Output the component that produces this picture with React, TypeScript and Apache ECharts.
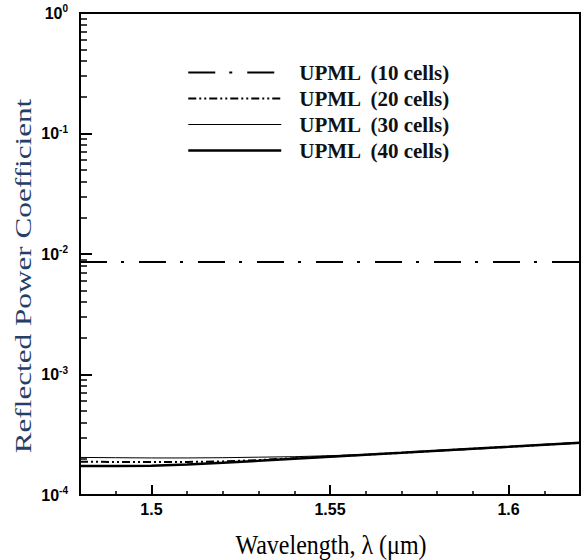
import React, { useEffect, useRef } from "react";
import * as echarts from "echarts";

const wavelengths = [1.48, 1.49, 1.5, 1.51, 1.52, 1.53, 1.54, 1.55, 1.56, 1.57, 1.58, 1.59, 1.6, 1.61, 1.62];
const upml10 = [8.6e-3, 8.6e-3, 8.6e-3, 8.6e-3, 8.6e-3, 8.6e-3, 8.6e-3, 8.6e-3, 8.6e-3, 8.6e-3, 8.6e-3, 8.6e-3, 8.6e-3, 8.6e-3, 8.6e-3];
const upml20 = [1.89e-4, 1.88e-4, 1.88e-4, 1.88e-4, 1.9e-4, 1.95e-4, 2.02e-4, 2.09e-4, 2.16e-4, 2.24e-4, 2.33e-4, 2.42e-4, 2.51e-4, 2.61e-4, 2.71e-4];
const upml30 = [2.05e-4, 2.04e-4, 2.03e-4, 2.03e-4, 2.04e-4, 2.06e-4, 2.08e-4, 2.12e-4, 2.17e-4, 2.24e-4, 2.33e-4, 2.42e-4, 2.52e-4, 2.62e-4, 2.72e-4];
const upml40 = [1.74e-4, 1.74e-4, 1.75e-4, 1.79e-4, 1.85e-4, 1.92e-4, 2.0e-4, 2.08e-4, 2.16e-4, 2.24e-4, 2.33e-4, 2.42e-4, 2.51e-4, 2.61e-4, 2.71e-4];
const seriesNames = ["UPML  (10 cells)", "UPML  (20 cells)", "UPML  (30 cells)", "UPML  (40 cells)"];
const xTitle = "Wavelength, λ (μm)";
const yTitle = "Reflected Power Coefficient";
const xMajorTicks = [1.5, 1.55, 1.6];
const xMinorTicks = [1.49, 1.51, 1.52, 1.53, 1.54, 1.56, 1.57, 1.58, 1.59, 1.61];
const yMinorTicks = [
  2e-4, 3e-4, 4e-4, 5e-4, 6e-4, 7e-4, 8e-4, 9e-4,
  2e-3, 3e-3, 4e-3, 5e-3, 6e-3, 7e-3, 8e-3, 9e-3,
  2e-2, 3e-2, 4e-2, 5e-2, 6e-2, 7e-2, 8e-2, 9e-2,
  2e-1, 3e-1, 4e-1, 5e-1, 6e-1, 7e-1, 8e-1, 9e-1,
];

export default function App() {
  const ref = useRef<HTMLDivElement>(null);
  useEffect(() => {
    if (!ref.current) return;
    const chart = echarts.init(ref.current, null, { renderer: "svg" });
    const pair = (arr: number[]) => wavelengths.map((x, i) => [x, arr[i]]);
    const sansBold = { fontFamily: "Liberation Sans", fontWeight: "bold" as const, color: "#000" };
    const lineSeries = (name: string, arr: number[], lineStyle: any) => ({
      name,
      type: "line",
      data: pair(arr),
      symbol: "none",
      color: "#000",
      itemStyle: { color: "#000" },
      lineStyle: { color: "#000", ...lineStyle },
    });
    chart.setOption({
      animation: false,
      backgroundColor: "#fff",
      grid: { left: 80, top: 13, right: 6, bottom: 65, show: true, borderColor: "#000", borderWidth: 2, backgroundColor: "transparent" },
      legend: {
        orient: "vertical",
        left: 187,
        top: 62,
        padding: 0,
        itemWidth: 93,
        itemHeight: 14,
        itemGap: 5,
        data: seriesNames,
        itemStyle: { opacity: 0 },
        lineStyle: { width: "inherit", type: "inherit" },
        textStyle: { fontFamily: "Liberation Serif", fontWeight: "bold", fontSize: 21, color: "#111", padding: [0, 0, 0, 13] },
      },
      graphic: [
        {
          type: "text",
          x: 23,
          y: 276,
          rotation: Math.PI / 2,
          scaleX: 1.3,
          style: { text: yTitle, font: "24px 'Liberation Serif'", fill: "#263f68", textAlign: "center", textVerticalAlign: "middle" },
        },
        {
          type: "text",
          x: 331,
          y: 545,
          scaleY: 1.12,
          style: { text: xTitle, font: "24px 'Liberation Serif'", fill: "#000", textAlign: "center", textVerticalAlign: "middle" },
        },
      ],
      xAxis: [
        {
          type: "value",
          min: 1.48,
          max: 1.62,
          axisLine: { show: true, lineStyle: { color: "#000", width: 2 } },
          axisTick: { show: true, inside: true, length: 10, lineStyle: { color: "#000", width: 2 }, customValues: xMajorTicks },
          axisLabel: { ...sansBold, fontSize: 16, margin: 6, customValues: xMajorTicks, formatter: (v: number) => String(v) },
          splitLine: { show: false },
        },
        {
          type: "value",
          min: 1.48,
          max: 1.62,
          position: "bottom",
          axisLine: { show: false },
          axisTick: { show: true, inside: true, length: 4, lineStyle: { color: "#000", width: 1.5 }, customValues: xMinorTicks },
          axisLabel: { show: false },
          splitLine: { show: false },
        },
      ],
      yAxis: [
        {
          type: "log",
          min: 1e-4,
          max: 1,
          logBase: 10,
          axisLine: { show: true, lineStyle: { color: "#000", width: 2 } },
          axisTick: { show: true, inside: true, length: 12, lineStyle: { color: "#000", width: 2 } },
          axisLabel: {
            margin: 12,
            formatter: (v: number) => `{b|10}{s|${Math.round(Math.log10(v))}}`,
            rich: {
              b: { ...sansBold, fontSize: 16 },
              s: { ...sansBold, fontSize: 10, padding: [0, 0, 9, 0] },
            },
          },
          splitLine: { show: false },
        },
        {
          type: "log",
          min: 1e-4,
          max: 1,
          logBase: 10,
          position: "left",
          axisLine: { show: false },
          axisTick: { show: true, inside: true, length: 7, lineStyle: { color: "#000", width: 1.5 }, customValues: yMinorTicks },
          axisLabel: { show: false },
          splitLine: { show: false },
        },
      ],
      series: [
        lineSeries(seriesNames[0], upml10, { width: 2, type: [27, 14, 3, 15] }),
        lineSeries(seriesNames[1], upml20, { width: 2, type: [8, 3, 2, 3, 2, 3] }),
        lineSeries(seriesNames[2], upml30, { width: 1 }),
        lineSeries(seriesNames[3], upml40, { width: 2.5 }),
      ],
    });
    return () => chart.dispose();
  }, []);
  return <div ref={ref} style={{ position: "fixed", left: 0, top: 0, width: 586, height: 560 }} />;
}
